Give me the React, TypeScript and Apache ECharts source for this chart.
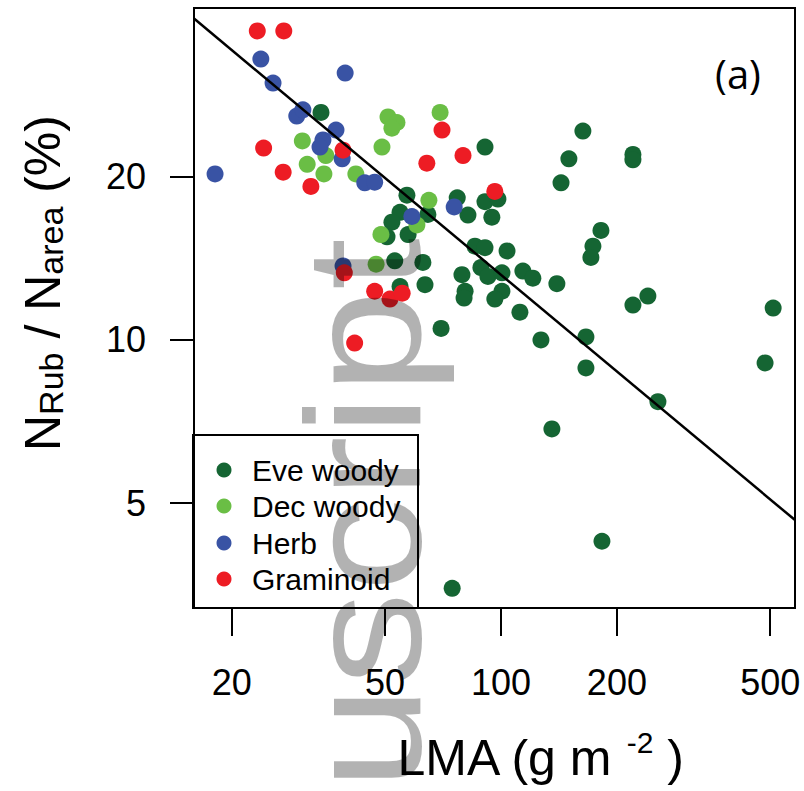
import React, { useEffect, useRef } from "react";
import * as echarts from "echarts";

// ---------- data (LMA in g m-2, NRub/Narea in %) ----------
const X_TICKS = [20, 50, 100, 200, 500];
const Y_TICKS = [5, 10, 20];
const LMA_RANGE = [15.96, 580];
const RATIO_RANGE = [3.2, 41.0];

const GROUPS = ["Eve woody", "Dec woody", "Herb", "Graminoid"];
const COLORS = ["#156533", "#6abe45", "#3953a4", "#ed1c24"];

const eveLMA = [34.1, 90.9, 163.2, 150.1, 143.2, 220.1, 220.1, 57.0, 54.7, 52.1, 50.6, 57.4, 64.6, 77.0, 82.1, 90.9, 98.2, 94.7, 85.6, 90.9, 103.7, 79.2, 88.7, 92.5, 100.6, 114.0, 121.0, 139.7, 80.7, 80.2, 100.6, 96.4, 112.0, 53.0, 62.7, 63.5, 54.7, 69.9, 127.0, 181.8, 173.3, 171.2, 240.7, 220.1, 509, 166.2, 166.2, 485, 255.6, 135.6, 182.9, 74.7];
const eveRatio = [26.3, 22.7, 24.3, 21.6, 19.5, 22.0, 21.5, 18.5, 17.2, 16.5, 15.5, 15.65, 17.05, 18.3, 17.0, 18.0, 18.2, 16.85, 14.9, 14.8, 14.6, 13.2, 13.6, 13.1, 13.3, 13.4, 13.0, 12.7, 12.3, 11.95, 12.3, 11.9, 11.25, 14.0, 13.9, 12.65, 12.55, 10.5, 10.0, 15.93, 14.9, 14.2, 12.05, 11.6, 11.45, 10.13, 8.88, 9.07, 7.69, 6.85, 4.25, 3.48];

const decLMA = [30.5, 31.4, 34.7, 35.1, 42.0, 49.1, 50.9, 53.7, 52.1, 69.5, 65.0, 60.5, 48.8, 47.4];
const decRatio = [23.3, 21.1, 20.25, 21.9, 20.25, 22.7, 25.8, 25.2, 24.6, 26.3, 18.1, 16.3, 15.65, 13.8];

const herbLMA = [18.1, 23.8, 25.6, 29.5, 30.6, 39.4, 37.3, 34.5, 33.9, 38.7, 44.3, 47.0, 75.6, 58.7, 38.9];
const herbRatio = [20.25, 33.0, 29.8, 25.9, 26.6, 31.1, 24.4, 23.4, 22.7, 21.6, 19.5, 19.55, 17.6, 16.9, 13.7];

const gramLMA = [23.3, 27.3, 24.2, 27.2, 32.1, 38.9, 39.2, 47.0, 51.5, 55.4, 41.7, 70.3, 79.7, 64.2, 96.4];
const gramRatio = [37.2, 37.2, 22.6, 20.4, 19.2, 22.4, 13.3, 12.3, 11.9, 12.2, 9.87, 24.4, 21.9, 21.2, 18.8];

// fitted log-log regression line, end points
const fitLMA = [15.96, 580];
const fitRatio = [39.2, 4.65];

const SERIES_LMA = [eveLMA, decLMA, herbLMA, gramLMA];
const SERIES_RATIO = [eveRatio, decRatio, herbRatio, gramRatio];

const FONT = "'Liberation Sans', Arial, Helvetica, sans-serif";
const L = Math.log10;

export default function App() {
  const ref = useRef<HTMLDivElement>(null);

  useEffect(() => {
    if (!ref.current) return;
    const chart = echarts.init(ref.current, null, { renderer: "svg" });

    const scatter = GROUPS.map((name, i) => ({
      name,
      type: "scatter",
      symbol: "circle",
      symbolSize: 17,
      z: 3,
      itemStyle: { color: COLORS[i], opacity: 1 },
      data: SERIES_LMA[i].map((x, j) => [L(x), L(SERIES_RATIO[i][j])]),
    }));

    const legendRows = [470, 506, 543, 579];
    const legendEls: any[] = [];
    GROUPS.forEach((name, i) => {
      legendEls.push({
        type: "circle",
        shape: { cx: 224, cy: legendRows[i], r: 7.5 },
        style: { fill: COLORS[i] },
        z: 20,
      });
      legendEls.push({
        type: "text",
        x: 252,
        y: legendRows[i],
        style: {
          text: name,
          fill: "#000",
          font: `30px ${FONT}`,
          textAlign: "left",
          textVerticalAlign: "middle",
        },
        z: 20,
      });
    });

    const option: any = {
      animation: false,
      backgroundColor: "#fff",
      grid: {
        left: 194,
        top: 8,
        width: 601,
        height: 600,
        show: true,
        borderColor: "#000",
        borderWidth: 2,
        backgroundColor: "transparent",
        z: 5,
      },
      xAxis: {
        type: "value",
        min: L(LMA_RANGE[0]),
        max: L(LMA_RANGE[1]),
        axisLine: { show: false },
        splitLine: { show: false },
        axisTick: {
          show: true,
          customValues: X_TICKS.map(L),
          length: 28,
          lineStyle: { color: "#000", width: 2 },
        },
        axisLabel: {
          customValues: X_TICKS.map(L),
          formatter: (v: number) => String(Math.round(Math.pow(10, v))),
          fontSize: 36,
          fontFamily: FONT,
          color: "#000",
          margin: 56,
        },
      },
      yAxis: {
        type: "value",
        min: L(RATIO_RANGE[0]),
        max: L(RATIO_RANGE[1]),
        axisLine: { show: false },
        splitLine: { show: false },
        axisTick: {
          show: true,
          customValues: Y_TICKS.map(L),
          length: 24,
          lineStyle: { color: "#000", width: 2 },
        },
        axisLabel: {
          customValues: Y_TICKS.map(L),
          formatter: (v: number) => String(Math.round(Math.pow(10, v))),
          fontSize: 36,
          fontFamily: FONT,
          color: "#000",
          margin: 48,
        },
      },
      series: [
        ...scatter,
        {
          name: "fit",
          type: "line",
          symbol: "none",
          z: 6,
          lineStyle: { color: "#000", width: 2.5 },
          data: fitLMA.map((x, j) => [L(x), L(fitRatio[j])]),
        },
      ],
      graphic: [
        {
          type: "rect",
          shape: { x: 193, y: 435, width: 225, height: 173 },
          style: { fill: "none", stroke: "#000", lineWidth: 2 },
          z: 20,
        },
        ...legendEls,
        {
          type: "text",
          x: 738,
          y: 73,
          z: 20,
          style: {
            text: "(a)",
            fill: "#000",
            font: `40px 'Open Sans', sans-serif`,
            textAlign: "center",
            textVerticalAlign: "middle",
          },
        },
        {
          type: "text",
          x: 540,
          y: 755,
          z: 20,
          style: {
            text: "{a|LMA (g m }{s|-2}{a| )}",
            textAlign: "center",
            textVerticalAlign: "middle",
            rich: {
              a: { fontSize: 50, fontFamily: FONT, fill: "#000", color: "#000", lineHeight: 56, verticalAlign: "bottom" },
              s: { fontSize: 30, fontFamily: FONT, fill: "#000", color: "#000", lineHeight: 56, verticalAlign: "top" },
            },
          },
        },
        {
          type: "text",
          x: 40,
          y: 283,
          rotation: Math.PI / 2,
          z: 20,
          style: {
            text: "{a|N}{b|Rub}{a| / N}{b|area}{a| (%)}",
            textAlign: "center",
            textVerticalAlign: "middle",
            rich: {
              a: { fontSize: 50, fontFamily: FONT, fill: "#000", color: "#000", lineHeight: 56, verticalAlign: "bottom" },
              b: { fontSize: 34, fontFamily: FONT, fill: "#000", color: "#000", lineHeight: 56, verticalAlign: "bottom" },
            },
          },
        },
        {
          type: "text",
          x: 363,
          y: 238,
          rotation: Math.PI / 2,
          scaleX: 1.15,
          z: 50,
          silent: true,
          style: {
            text: "Manuscript",
            fill: "rgba(0,0,0,0.3)",
            font: `163px ${FONT}`,
            textAlign: "right",
            textVerticalAlign: "middle",
          },
        },
      ],
    };

    chart.setOption(option);
    return () => chart.dispose();
  }, []);

  return <div ref={ref} style={{ width: 804, height: 791, position: "absolute", left: 0, top: 0 }} />;
}
